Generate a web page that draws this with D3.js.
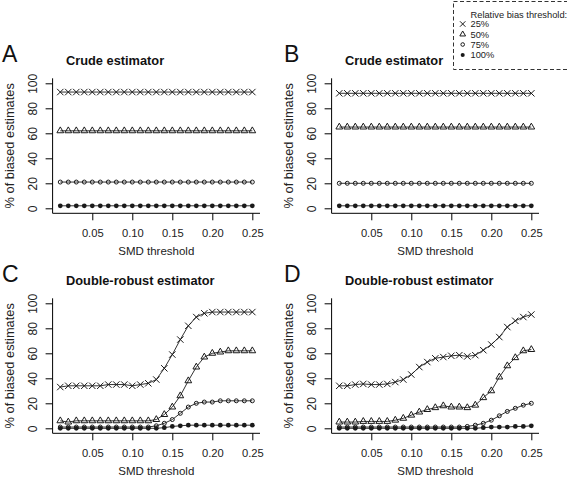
<!DOCTYPE html>
<html>
<head>
<meta charset="utf-8">
<script src="https://cdn.jsdelivr.net/npm/d3@7"></script>
<style>
  html, body { margin: 0; padding: 0; background: #fff; }
  svg { display: block; font-family: "Liberation Sans", Arial, sans-serif; }
</style>
</head>
<body>
<svg id="chart" width="567" height="480"></svg>
<script>
// ---------------- DATA ----------------
const smdThresholds = [0.01,0.02,0.03,0.04,0.05,0.06,0.07,0.08,0.09,0.10,0.11,0.12,0.13,
                       0.14,0.15,0.16,0.17,0.18,0.19,0.20,0.21,0.22,0.23,0.24,0.25];
const xTickValues = [0.05, 0.10, 0.15, 0.20, 0.25];
const yTickValues = [0, 20, 40, 60, 80, 100];
const seriesLabels = ["25%", "50%", "75%", "100%"];
const seriesShapes = ["cross", "triangle", "circle", "dot"];

// Panel A - Crude estimator
const crudeA_25  = [93,93,93,93,93,93,93,93,93,93,93,93,93,93,93,93,93,93,93,93,93,93,93,93,93];
const crudeA_50  = [62,62,62,62,62,62,62,62,62,62,62,62,62,62,62,62,62,62,62,62,62,62,62,62,62];
const crudeA_75  = [21,21,21,21,21,21,21,21,21,21,21,21,21,21,21,21,21,21,21,21,21,21,21,21,21];
const crudeA_100 = [2,2,2,2,2,2,2,2,2,2,2,2,2,2,2,2,2,2,2,2,2,2,2,2,2];

// Panel B - Crude estimator
const crudeB_25  = [92,92,92,92,92,92,92,92,92,92,92,92,92,92,92,92,92,92,92,92,92,92,92,92,92];
const crudeB_50  = [65,65,65,65,65,65,65,65,65,65,65,65,65,65,65,65,65,65,65,65,65,65,65,65,65];
const crudeB_75  = [20,20,20,20,20,20,20,20,20,20,20,20,20,20,20,20,20,20,20,20,20,20,20,20,20];
const crudeB_100 = [2,2,2,2,2,2,2,2,2,2,2,2,2,2,2,2,2,2,2,2,2,2,2,2,2];

// Panel C - Double-robust estimator
const drC_25  = [33,34,34,34,34,34,35,35,35,34,35,36,39,48,59,71,82,89,92,93,93,93,93,93,93];
const drC_50  = [6,5,6,6,6,6,6,6,6,6,6,6,7,11,17,26,38,49,57,60,61,62,62,62,62];
const drC_75  = [1,1,1,1,1,1,1,1,1,1,1,1,2,4,7,12,17,20,21,21,22,22,22,22,22];
const drC_100 = [0,0,0,0,0,0,0,0,0,0,0,0,0,0.5,1.5,2,2.5,2.5,2.5,2.5,2.5,2.5,2.5,2.5,2.5];

// Panel D - Double-robust estimator
const drD_25  = [34,34,35,35.5,35,35,35.5,37,39,43,49,53,56,57,58,58.5,57.5,58.5,62.5,67,73,81,86,89,91];
const drD_50  = [5,5,5,5.5,5.5,5.5,5.5,6.5,8,10.5,13,15,16.5,18,17,17,16.5,18.5,24.5,30,41,50,56.5,62,63];
const drD_75  = [1,1,1,1,1,1,1,1,1,1,1,1,1,1,1,1,1.5,2.5,4,6.5,10,13.5,16,18.5,20];
const drD_100 = [0,0,0,0,0,0,0,0,0,0,0,0,0,0,0,0,0,0,0.5,1,1,1,1.5,1.5,2];

const panels = [
  { letter: "A", title: "Crude estimator",          series: [crudeA_25, crudeA_50, crudeA_75, crudeA_100], col: 0, row: 0 },
  { letter: "B", title: "Crude estimator",          series: [crudeB_25, crudeB_50, crudeB_75, crudeB_100], col: 1, row: 0 },
  { letter: "C", title: "Double-robust estimator",  series: [drC_25, drC_50, drC_75, drC_100],             col: 0, row: 1 },
  { letter: "D", title: "Double-robust estimator",  series: [drD_25, drD_50, drD_75, drD_100],             col: 1, row: 1 }
];

// ---------------- LAYOUT ----------------
const svg = d3.select("#chart");
const ink = "#1a1a1a";
const colDx = [0, 279];
const rowDy = [0, 220];
const letterX = [2, 284];

function drawMarker(g, shape, cx, cy, scale) {
  const s = scale || 1;
  if (shape === "cross") {
    const h = 3.2 * s;
    g.append("path")
      .attr("d", `M${cx-h},${cy-h}L${cx+h},${cy+h}M${cx-h},${cy+h}L${cx+h},${cy-h}`)
      .attr("stroke", ink).attr("stroke-width", 1).attr("fill", "none");
  } else if (shape === "triangle") {
    const r = 3.9 * s, hw = r * Math.sqrt(3) / 2;
    g.append("path")
      .attr("d", `M${cx},${cy-r}L${cx+hw},${cy+r/2}L${cx-hw},${cy+r/2}Z`)
      .attr("stroke", ink).attr("stroke-width", 1).attr("fill", "none");
  } else if (shape === "circle") {
    g.append("circle").attr("cx", cx).attr("cy", cy).attr("r", 2 * s)
      .attr("stroke", ink).attr("stroke-width", 1).attr("fill", "none");
  } else {
    g.append("circle").attr("cx", cx).attr("cy", cy).attr("r", 2.4 * s)
      .attr("fill", ink);
  }
}

panels.forEach(p => {
  const dx = colDx[p.col], dy = rowDy[p.row];
  const xExt = d3.extent(smdThresholds);
  const xPad = (xExt[1] - xExt[0]) * 0.04;
  const x = d3.scaleLinear().domain([xExt[0] - xPad, xExt[1] + xPad]).range([52.6 + dx, 260 + dx]);
  const y = d3.scaleLinear().domain([-4, 104]).range([213.3 + dy, 78.3 + dy]);
  const g = svg.append("g");

  // L-shaped box
  g.append("path")
    .attr("d", `M${x.range()[0]},${y.range()[1]}V${y.range()[0]}H${x.range()[1]}`)
    .attr("stroke", "#000").attr("stroke-width", 1).attr("fill", "none");

  // y axis
  const yAxis = g.append("g")
    .attr("transform", `translate(${x.range()[0]},0)`)
    .call(d3.axisLeft(y).tickValues(yTickValues).tickSize(7).tickFormat(d3.format("d")));
  yAxis.select(".domain").remove();
  yAxis.selectAll("line").attr("stroke", "#000");
  yAxis.selectAll("text")
    .attr("transform", "rotate(-90)")
    .attr("x", 0).attr("y", -19.5).attr("dy", "0.35em")
    .attr("text-anchor", "middle")
    .attr("font-size", 12).attr("font-family", "Liberation Sans, Arial, sans-serif")
    .attr("fill", "#222");

  // x axis
  const xAxis = g.append("g")
    .attr("transform", `translate(0,${y.range()[0]})`)
    .call(d3.axisBottom(x).tickValues(xTickValues).tickSize(7).tickFormat(d3.format(".2f")));
  xAxis.select(".domain").remove();
  xAxis.selectAll("line").attr("stroke", "#000");
  xAxis.selectAll("text")
    .attr("y", 20).attr("dy", "0.35em")
    .attr("font-size", 11.2).attr("font-family", "Liberation Sans, Arial, sans-serif")
    .attr("fill", "#222");

  // series lines + markers
  const line = d3.line().x((d, i) => x(smdThresholds[i])).y(d => y(d));
  p.series.forEach((vals, si) => {
    g.append("path").datum(vals).attr("d", line)
      .attr("stroke", "#333").attr("stroke-width", 1).attr("fill", "none");
    vals.forEach((v, i) => drawMarker(g, seriesShapes[si], x(smdThresholds[i]), y(v)));
  });

  // titles
  g.append("text").text(p.title)
    .attr("x", 66 + dx).attr("y", 60.7 + dy).attr("dy", "0.35em")
    .attr("font-weight", "bold").attr("font-size", 12.8).attr("fill", "#111");
  g.append("text").text(p.letter)
    .attr("x", letterX[p.col]).attr("y", 61.7 + dy)
    .attr("font-size", 23).attr("fill", "#111");
  g.append("text").text("% of biased estimates")
    .attr("transform", `translate(${10 + dx},${(y.range()[0] + y.range()[1]) / 2}) rotate(-90)`)
    .attr("text-anchor", "middle").attr("dy", "0.35em")
    .attr("font-size", 12.8).attr("fill", "#222");
  g.append("text").text("SMD threshold")
    .attr("x", (x.range()[0] + x.range()[1]) / 2).attr("y", 250.5 + dy).attr("dy", "0.35em")
    .attr("text-anchor", "middle")
    .attr("font-size", 11.5).attr("fill", "#222");
});

// ---------------- LEGEND ----------------
const lg = svg.append("g");
lg.append("rect").attr("x", 453.5).attr("y", 1.5).attr("width", 130).attr("height", 68)
  .attr("fill", "#fff").attr("stroke", "#333").attr("stroke-width", 1)
  .attr("stroke-dasharray", "4,2.5");
lg.append("text").text("Relative bias threshold:")
  .attr("x", 470.5).attr("y", 14.5).attr("dy", "0.35em")
  .attr("font-size", 9.3).attr("fill", "#222");
const legendY = [24, 34.3, 44.5, 55];
seriesLabels.forEach((lab, i) => {
  drawMarker(lg, seriesShapes[i], 462.7, legendY[i], i === 2 ? 0.9 : 0.85);
  lg.append("text").text(lab)
    .attr("x", 470.5).attr("y", legendY[i]).attr("dy", "0.35em")
    .attr("font-size", 9.3).attr("fill", "#222");
});
</script>
</body>
</html>
